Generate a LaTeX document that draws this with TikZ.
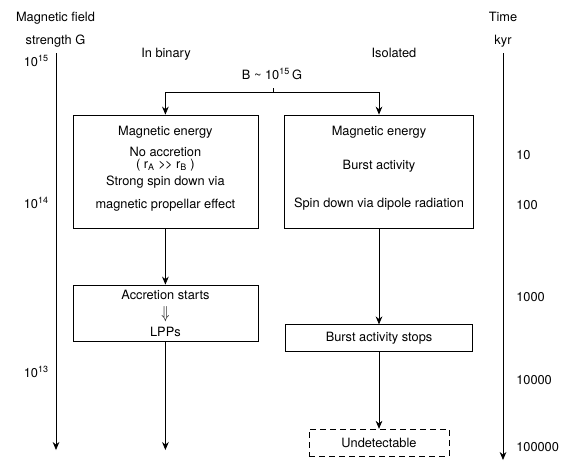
\documentclass[tikz,border=0pt]{standalone}
\usepackage{fontspec}
\setmainfont{TeX Gyre Heros}
\usetikzlibrary{arrows.meta}

\begin{document}
\begin{tikzpicture}[x=0.75pt,y=0.75pt,yscale=-1,xscale=1,
  font=\fontsize{9.6}{11.5}\selectfont,
  flow/.style={-{Stealth[length=6pt,width=5pt]},line width=0.6pt},
  stagebox/.style={draw,line width=0.6pt,inner sep=0pt,align=center},
  lbl/.style={inner sep=0.75pt,text height=6.9pt,text depth=0pt}]
\useasboundingbox (0,0) rectangle (563,464);

% Axes
\coordinate (gtop) at (56,53);
\coordinate (gend) at (56,450);
\coordinate (ttop) at (503,53);
\coordinate (tend) at (503,460);
\draw [flow] (gtop) -- (gend);
\draw [flow] (ttop) -- (tend);

% Axis labels
\node [lbl] (gname) at (55.5,17) {Magnetic field};
\node [lbl] (gunit) at (55.5,40) {strength G};
\node [lbl,anchor=east] (g15) at (50,62) {10\textsuperscript{15}};
\node [lbl,anchor=east] (g14) at (50,204) {10\textsuperscript{14}};
\node [lbl,anchor=east] (g13) at (50,373) {10\textsuperscript{13}};
\node [lbl] (tname) at (503,17) {Time};
\node [lbl] (tunit) at (503,40) {kyr};
\node [lbl,anchor=west] (t1) at (515,155) {10};
\node [lbl,anchor=west] (t2) at (515,205) {100};
\node [lbl,anchor=west] (t3) at (515,297) {1000};
\node [lbl,anchor=west] (t4) at (515,380) {10000};
\node [lbl,anchor=west] (t5) at (515,447) {100000};

% Column heads
\node [lbl] (binhead) at (166,53) {In binary};
\node [lbl] (isohead) at (394,53) {Isolated};
\node [lbl] (bfield) at (272,75) {B \textasciitilde{} 10\textsuperscript{15}\,G};

% Boxes
\node [stagebox,minimum width=138.75pt,minimum height=84.75pt] (bin1) at (165.4,171.5) {};
\node [stagebox,minimum width=141.75pt,minimum height=84.75pt] (iso1) at (379,171.5) {};
\node [stagebox,minimum width=138.75pt,minimum height=42pt] (bin2) at (165.4,313) {};
\node [stagebox,minimum width=140.25pt,minimum height=20.25pt] (iso2) at (379,338.3) {Burst activity stops};
\node [stagebox,dash pattern=on 4.5pt off 3pt,minimum width=105pt,minimum height=20.25pt] (undet) at (379,442.7) {Undetectable};

% Text Node
\node [lbl] (bin1a) at (165.4,130.7) {Magnetic energy};
\node [lbl] (bin1b) at (165.4,152.3) {No accretion};
\node [lbl] (bin1c) at (165.4,164) {( r\textsubscript{A} >\kern-0.6pt> r\textsubscript{B} )};
\node [lbl] (bin1d) at (165.4,181) {Strong spin down via};
\node [lbl] (bin1e) at (165.4,204.3) {magnetic propellar effect};
\node [lbl] (iso1a) at (379,130.7) {Magnetic energy};
\node [lbl] (iso1b) at (379,165) {Burst activity};
\node [lbl] (iso1c) at (379,202.7) {Spin down via dipole radiation};
\node [lbl] (bin2a) at (165.4,294.5) {Accretion starts};
\node [inner sep=0pt] (bin2b) at (165.4,314) {\scalebox{1}[1.3]{$\Downarrow$}};
\node [lbl] (bin2c) at (165.4,332) {LPPs};

%Straight Lines
\coordinate (btick) at (273,88);
\coordinate (split) at (273,92);
\coordinate (binend) at (165.4,450);
\draw [line width=0.6pt] (btick) -- (split);
\draw [flow] (split) -| (bin1.north);
\draw [flow] (split) -| (iso1.north);
\draw [flow] (bin1) -- (bin2);
\draw [flow] (bin2) -- (binend);
\draw [flow] (iso1) -- (iso2);
\draw [flow] (iso2) -- (undet);

\end{tikzpicture}
\end{document}
